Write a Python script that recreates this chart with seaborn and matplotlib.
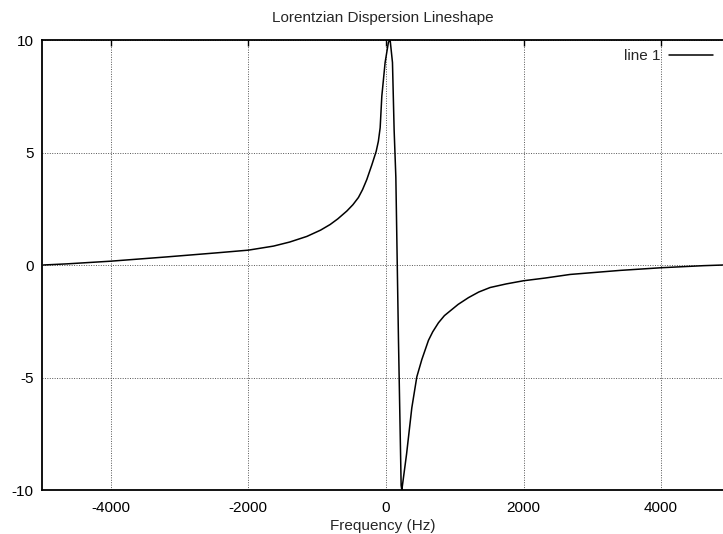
import matplotlib
matplotlib.use("Agg")
import matplotlib.pyplot as plt
import seaborn as sns
import pandas as pd

# Dispersion-mode Lorentzian line, sampled frequency (Hz) vs. signal
freq_hz = [-4980, -4640, -4000, -3185, -2460, -2000, -1635, -1400, -1150,
           -950, -811, -700, -568, -480, -400, -340, -278, -250, -205, -142,
           -110, -84, -60, -12, 36, 61, 95, 119, 144, 182, 221, 231, 300, 376,
           449, 522, 618, 680, 763, 850, 958, 1050, 1200, 1350, 1515, 1750,
           2000, 2314, 2677, 3404, 4010, 4615, 4906]
signal = [0.00, 0.05, 0.17, 0.36, 0.54, 0.66, 0.84, 1.02, 1.27,
          1.55, 1.80, 2.05, 2.40, 2.68, 3.00, 3.35, 3.80, 4.05, 4.45, 5.05,
          5.50, 6.10, 7.50, 9.00, 9.90, 10.0, 9.00, 6.00, 3.90, -3.30, -9.80,
          -10.0, -8.40, -6.35, -4.97, -4.20, -3.35, -2.97, -2.57, -2.25, -1.98,
          -1.75, -1.45, -1.20, -1.00, -0.84, -0.70, -0.58, -0.42, -0.24, -0.12,
          -0.03, 0.00]

x_ticks = [-4000, -2000, 0, 2000, 4000]
y_ticks = [-10, -5, 0, 5, 10]

df = pd.DataFrame({"Frequency (Hz)": freq_hz, "signal": signal})

sns.set_theme(style="white")
plt.rcParams["font.family"] = ["Liberation Sans", "DejaVu Sans"]

fig = plt.figure(figsize=(7.23, 5.34), dpi=100)
ax = fig.add_axes([42 / 723, 1 - 490 / 534, 1 - 42 / 723, (490 - 40) / 534])

sns.lineplot(data=df, x="Frequency (Hz)", y="signal", ax=ax,
             color="black", linewidth=1.1, label="line 1")

ax.set_xlim(-5000, 4900)
ax.set_ylim(-10, 10)
ax.set_xticks(x_ticks)
ax.set_yticks(y_ticks)
ax.set_xticklabels([str(t) for t in x_ticks])
ax.set_yticklabels([str(t) for t in y_ticks])

ax.grid(True, linestyle=(0, (1, 1.5)), color="#555555", linewidth=0.7)
ax.tick_params(direction="in", length=4, width=1, colors="black",
               labelsize=11, top=True, pad=6)
ax.tick_params(axis="x", pad=8)

for side in ("left", "top", "bottom"):
    ax.spines[side].set_color("black")
    ax.spines[side].set_linewidth(1.3)
ax.spines["right"].set_visible(False)

ax.set_xlabel("Frequency (Hz)", fontsize=11, labelpad=3)
ax.set_ylabel("")
ax.set_title("Lorentzian Dispersion Lineshape", fontsize=11, pad=13)

leg = ax.legend(loc="upper right", frameon=False, markerfirst=False,
                fontsize=11, handlelength=2.9, borderaxespad=0.2,
                handletextpad=0.55, bbox_to_anchor=(0.999, 1.0))

fig.savefig("out.png", dpi=100, facecolor="white")
